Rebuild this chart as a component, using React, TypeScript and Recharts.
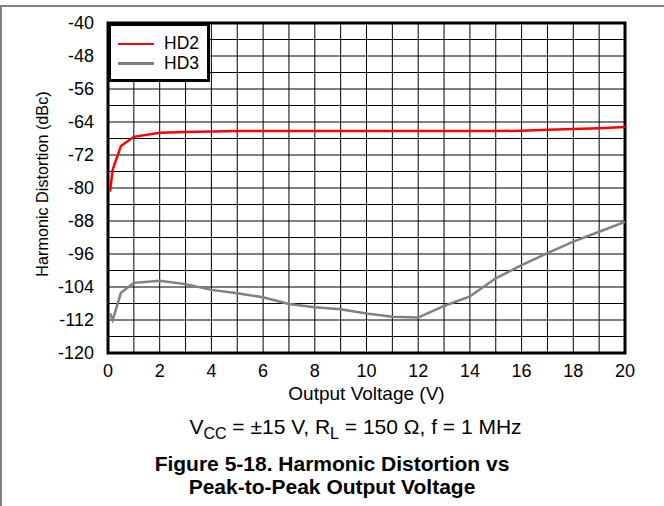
import React from "react";
import {
  LineChart,
  Line,
  XAxis,
  YAxis,
  CartesianGrid,
  Legend,
  ReferenceArea,
} from "recharts";

const voltage = [0.08, 0.18, 0.5, 1, 2, 3, 4, 5, 6, 7, 8, 9, 10, 11, 12, 13, 14, 15, 16, 17, 18, 19, 20];
const hd2 = [-80.9, -75.6, -69.8, -67.6, -66.6, -66.4, -66.3, -66.2, -66.2, -66.2, -66.2, -66.2, -66.2, -66.2, -66.2, -66.2, -66.2, -66.2, -66.1, -65.9, -65.7, -65.5, -65.2];
const hd3 = [-110.4, -112, -105.4, -103, -102.5, -103.3, -104.7, -105.5, -106.5, -108.1, -108.9, -109.4, -110.4, -111.2, -111.4, -108.6, -106.3, -101.9, -98.7, -95.8, -93, -90.6, -88.2];

const xTicks = [0, 1, 2, 3, 4, 5, 6, 7, 8, 9, 10, 11, 12, 13, 14, 15, 16, 17, 18, 19, 20];
const yTicks = [-120, -116, -112, -108, -104, -100, -96, -92, -88, -84, -80, -76, -72, -68, -64, -60, -56, -52, -48, -44, -40];

const data = voltage.map((v, i) => ({ v, hd2: hd2[i], hd3: hd3[i] }));

const font = "'Liberation Sans', Arial, sans-serif";
const tickStyle = { fill: "#000", fontSize: 18, fontFamily: font };

function LegendBox() {
  const items = [
    { name: "HD2", color: "#ff0000" },
    { name: "HD3", color: "#808080" },
  ];
  return (
    <div
      style={{
        background: "#fff",
        border: "3px solid #000",
        width: 102,
        height: 59,
        boxSizing: "border-box",
        padding: "8px 0 0 7px",
        fontFamily: font,
        fontSize: 17.5,
        lineHeight: "19.5px",
      }}
    >
      {items.map((it) => (
        <div key={it.name} style={{ display: "flex", alignItems: "center" }}>
          <span style={{ width: 36, height: 2.5, background: it.color, marginRight: 10 }} />
          {it.name}
        </div>
      ))}
    </div>
  );
}

export default function App() {
  return (
    <div
      style={{
        position: "absolute",
        left: 0,
        top: 0,
        width: 664,
        height: 506,
        background: "#fff",
        fontFamily: font,
        overflow: "hidden",
      }}
    >
      <div style={{ position: "absolute", left: 0, top: 5, width: 664, height: 1.5, background: "#808080" }} />
      <div style={{ position: "absolute", left: 0, top: 5, width: 1.5, height: 501, background: "#808080" }} />
      <LineChart
        width={664}
        height={506}
        data={data}
        margin={{ top: 23, right: 39, bottom: 123, left: 48 }}
      >
        <CartesianGrid stroke="#000" strokeWidth={1} />
        <XAxis
          dataKey="v"
          type="number"
          domain={[0, 20]}
          ticks={xTicks}
          interval={0}
          tickFormatter={(t) => (t % 2 === 0 ? String(t) : "")}
          tick={tickStyle}
          tickLine={false}
          axisLine={false}
          tickMargin={5}
          height={30}
          label={{
            value: "Output Voltage (V)",
            position: "insideBottom",
            offset: -17,
            style: { fill: "#000", fontSize: 19, fontFamily: font },
          }}
        />
        <YAxis
          type="number"
          domain={[-120, -40]}
          ticks={yTicks}
          interval={0}
          tickFormatter={(t) => (t % 8 === 0 ? String(t) : "")}
          tick={tickStyle}
          tickLine={false}
          axisLine={false}
          tickMargin={8}
          width={60}
          label={{
            value: "Harmonic Distortion (dBc)",
            angle: -90,
            position: "insideLeft",
            offset: -6,
            dy: -4,
            style: { fill: "#000", fontSize: 16.2, fontFamily: font, textAnchor: "middle" },
          }}
        />
        <ReferenceArea
          x1={0}
          x2={20}
          y1={-120}
          y2={-40}
          fill="none"
          stroke="#000"
          strokeWidth={3}
          ifOverflow="visible"
        />
        <Legend
          layout="vertical"
          align="center"
          verticalAlign="middle"
          content={() => <LegendBox />}
          wrapperStyle={{ top: 23, left: 108, width: 102 }}
        />
        <Line
          dataKey="hd2"
          name="HD2"
          stroke="#ff0000"
          strokeWidth={2.5}
          dot={false}
          isAnimationActive={false}
        />
        <Line
          dataKey="hd3"
          name="HD3"
          stroke="#808080"
          strokeWidth={2.5}
          dot={false}
          isAnimationActive={false}
        />
      </LineChart>
      <div
        style={{
          position: "absolute",
          left: 0,
          width: 664,
          top: 414,
          textAlign: "center",
          fontSize: 21,
          lineHeight: "26px",
          paddingLeft: 47,
          boxSizing: "border-box",
        }}
      >
        V<sub style={{ fontSize: 16, verticalAlign: -5, lineHeight: 0 }}>CC</sub> = ±15 V, R
        <sub style={{ fontSize: 16, verticalAlign: -5, lineHeight: 0 }}>L</sub> = 150 Ω, f = 1 MHz
      </div>
      <div
        style={{
          position: "absolute",
          left: 0,
          width: 664,
          top: 452,
          textAlign: "center",
          fontSize: 21,
          fontWeight: "bold",
          lineHeight: "23px",
          boxSizing: "border-box",
        }}
      >
        Figure 5-18. Harmonic Distortion vs
        <br />
        Peak-to-Peak Output Voltage
      </div>
    </div>
  );
}
